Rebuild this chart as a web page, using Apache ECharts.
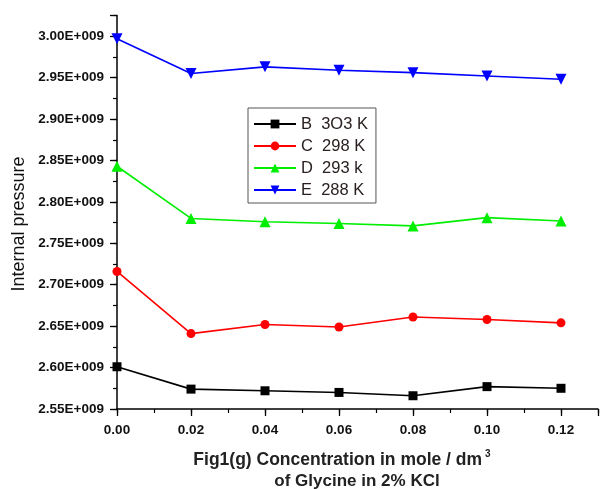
<!DOCTYPE html>
<html>
<head>
<meta charset="utf-8">
<script src="https://cdn.jsdelivr.net/npm/echarts@6/dist/echarts.min.js"></script>
<style>
  html, body { margin: 0; padding: 0; background: #fff; }
  #chart { width: 601px; height: 489px; }
</style>
</head>
<body>
<div id="chart"></div>
<script>
// Glycine concentration (mole / dm^3)
const concentration = [0.00, 0.02, 0.04, 0.06, 0.08, 0.10, 0.12];

// Internal pressure at each temperature
const seriesNames = ['B  3O3 K', 'C  298 K', 'D  293 k', 'E  288 K'];
const pressure303 = [2.601e9, 2.574e9, 2.572e9, 2.570e9, 2.566e9, 2.577e9, 2.575e9];
const pressure298 = [2.716e9, 2.641e9, 2.652e9, 2.649e9, 2.661e9, 2.658e9, 2.654e9];
const pressure293 = [2.843e9, 2.780e9, 2.776e9, 2.774e9, 2.771e9, 2.781e9, 2.777e9];
const pressure288 = [2.997e9, 2.955e9, 2.963e9, 2.959e9, 2.956e9, 2.952e9, 2.948e9];

const yTickLabels = ['2.55E+009', '2.60E+009', '2.65E+009', '2.70E+009', '2.75E+009',
                     '2.80E+009', '2.85E+009', '2.90E+009', '2.95E+009', '3.00E+009'];
const xTickLabels = ['0.00', '0.02', '0.04', '0.06', '0.08', '0.10', '0.12'];

const yMin = 2.55e9, yMax = 3.025e9, yStep = 5e7;
const xMin = 0, xMax = 0.13, xStep = 0.02;

const colors = ['#000000', '#ff0000', '#00ee00', '#0000ff'];
const symbols = ['rect', 'circle', 'triangle', 'triangle'];
const symbolSizes = [9, 9, 11, 11];
const rotations = [0, 0, 0, 180];
const values = [pressure303, pressure298, pressure293, pressure288];

const chart = echarts.init(document.getElementById('chart'), null, { renderer: 'canvas' });

const FONT = 'Liberation Sans, Arial, sans-serif';
const labelFont = { fontFamily: FONT, fontWeight: 'bold', fontSize: 13.5, color: '#111' };

function yLabel(v) {
  const idx = Math.round((v - yMin) / yStep);
  if (Math.abs(v - (yMin + idx * yStep)) > 1 || idx >= yTickLabels.length) return '';
  return yTickLabels[idx];
}
function xLabel(v) {
  const idx = Math.round((v - xMin) / xStep);
  if (Math.abs(v - (xMin + idx * xStep)) > 1e-9 || idx >= xTickLabels.length) return '';
  return xTickLabels[idx];
}

const series = seriesNames.map((name, i) => ({
  name: name,
  type: 'line',
  xAxisIndex: 0,
  yAxisIndex: 0,
  data: concentration.map((c, j) => [c, values[i][j]]),
  symbol: symbols[i],
  symbolSize: symbolSizes[i],
  symbolRotate: rotations[i],
  showAllSymbol: true,
  lineStyle: { color: colors[i], width: 1.6 },
  itemStyle: { color: colors[i] },
  emphasis: { disabled: true },
  animation: false
}));

chart.setOption({
  animation: false,
  backgroundColor: '#ffffff',
  grid: { left: 117, right: 1, top: 15.5, bottom: 80, containLabel: false },
  xAxis: [
    {
      type: 'value', min: xMin, max: xMax, interval: xStep,
      axisLine: { show: true, onZero: false, lineStyle: { color: '#000', width: 1.5 } },
      axisTick: { show: true, inside: false, length: 7, lineStyle: { color: '#000', width: 1.3 } },
      axisLabel: Object.assign({ formatter: xLabel, margin: 14 }, labelFont),
      splitLine: { show: false }
    },
    {
      // minor ticks every 0.01
      type: 'value', min: xMin, max: xMax, interval: 0.01, position: 'bottom',
      axisLine: { show: false },
      axisTick: { show: true, inside: false, length: 4, lineStyle: { color: '#000', width: 1.2 } },
      axisLabel: { show: false },
      splitLine: { show: false }
    }
  ],
  yAxis: [
    {
      type: 'value', min: yMin, max: yMax, interval: yStep,
      axisLine: { show: true, onZero: false, lineStyle: { color: '#000', width: 1.5 } },
      axisTick: { show: true, inside: false, length: 7, lineStyle: { color: '#000', width: 1.3 } },
      axisLabel: Object.assign({ formatter: yLabel, margin: 13 }, labelFont),
      splitLine: { show: false }
    },
    {
      // minor ticks every 0.025E+009
      type: 'value', min: yMin, max: yMax, interval: 2.5e7, position: 'left',
      axisLine: { show: false },
      axisTick: { show: true, inside: false, length: 4, lineStyle: { color: '#000', width: 1.2 } },
      axisLabel: { show: false },
      splitLine: { show: false }
    }
  ],
  legend: {
    data: seriesNames,
    orient: 'vertical',
    left: 248,
    top: 108,
    backgroundColor: '#fff',
    borderColor: '#555',
    borderWidth: 1,
    borderRadius: 0,
    padding: [7, 8, 4, 5],
    itemWidth: 42,
    itemHeight: 11,
    itemGap: 4,
    textStyle: { fontFamily: FONT, fontSize: 16.5, color: '#2a2020', lineHeight: 18 },
    selectedMode: false
  },
  graphic: [
    {
      type: 'text',
      x: 19, y: 224,
      rotation: Math.PI / 2,
      style: { text: 'Internal pressure', font: '18px ' + FONT, fill: '#111', textAlign: 'center', textVerticalAlign: 'middle' }
    },
    {
      type: 'text',
      x: 342, y: 460,
      style: {
        text: '{m|Fig1(g) Concentration in mole / dm}{s|3}',
        rich: {
          m: { font: 'bold 17.5px ' + FONT, fill: '#222' },
          s: { font: 'bold 10px ' + FONT, fill: '#222', padding: [0, 0, 12, 3] }
        },
        textAlign: 'center', textVerticalAlign: 'middle'
      }
    },
    {
      type: 'text',
      x: 357, y: 481,
      style: { text: 'of Glycine in 2% KCl', font: 'bold 17px ' + FONT, fill: '#222', textAlign: 'center', textVerticalAlign: 'middle' }
    }
  ],
  series: series
});
</script>
</body>
</html>
